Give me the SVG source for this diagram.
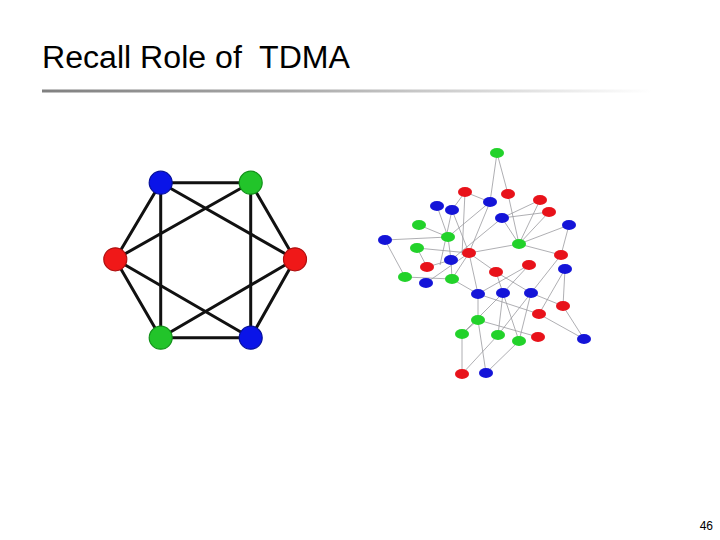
<svg xmlns="http://www.w3.org/2000/svg" width="720" height="540" viewBox="0 0 720 540">
<style>
.title{font-family:"Liberation Sans",Arial,sans-serif;font-size:31px;fill:#000;white-space:pre}
.pg{font-family:"Liberation Sans",Arial,sans-serif;font-size:12px;fill:#000}
.he{stroke:#111;stroke-width:3;stroke-linecap:round}
.hn{stroke-width:1.2}
.se{stroke:#9a9aa0;stroke-width:0.8}
.R{fill:#e8121a}
.G{fill:#22d22a}
.B{fill:#1414d8}
.hR{fill:#f01818;stroke:#b01010}
.hG{fill:#22c42a;stroke:#119018}
.hB{fill:#0a14e8;stroke:#06109a}
</style>
<defs>
<linearGradient id="rule" x1="0" y1="0" x2="1" y2="0">
<stop offset="0" stop-color="#808080"/>
<stop offset="0.4" stop-color="#a8a8a8"/>
<stop offset="1" stop-color="#ffffff"/>
</linearGradient>
</defs>
<rect width="720" height="540" fill="#fff"/>
<text class="title" x="42" y="68" xml:space="preserve" textLength="308" lengthAdjust="spacingAndGlyphs">Recall Role of  TDMA</text>
<rect x="42" y="89.5" width="610" height="3" fill="url(#rule)"/>

<g id="hex-edges">
<line class="he" x1="160.7" y1="182.7" x2="250.7" y2="182.7"/>
<line class="he" x1="250.7" y1="182.7" x2="295" y2="259.3"/>
<line class="he" x1="295" y1="259.3" x2="250.7" y2="337.7"/>
<line class="he" x1="250.7" y1="337.7" x2="160.7" y2="337.7"/>
<line class="he" x1="160.7" y1="337.7" x2="115.3" y2="259.3"/>
<line class="he" x1="115.3" y1="259.3" x2="160.7" y2="182.7"/>
<line class="he" x1="160.7" y1="182.7" x2="160.7" y2="337.7"/>
<line class="he" x1="250.7" y1="182.7" x2="250.7" y2="337.7"/>
<line class="he" x1="160.7" y1="182.7" x2="295" y2="259.3"/>
<line class="he" x1="250.7" y1="182.7" x2="115.3" y2="259.3"/>
<line class="he" x1="115.3" y1="259.3" x2="250.7" y2="337.7"/>
<line class="he" x1="295" y1="259.3" x2="160.7" y2="337.7"/>
</g>
<g id="hex-tl"><circle class="hn hB" cx="160.7" cy="182.7" r="11.5"/></g>
<g id="hex-tr"><circle class="hn hG" cx="250.7" cy="182.7" r="11.5"/></g>
<g id="hex-l"><circle class="hn hR" cx="115.3" cy="259.3" r="11.5"/></g>
<g id="hex-r"><circle class="hn hR" cx="295" cy="259.3" r="11.5"/></g>
<g id="hex-bl"><circle class="hn hG" cx="160.7" cy="337.7" r="11.5"/></g>
<g id="hex-br"><circle class="hn hB" cx="250.7" cy="337.7" r="11.5"/></g>

<g id="net-edges">
<line class="se" x1="497" y1="153" x2="490" y2="202"/>
<line class="se" x1="497" y1="153" x2="508" y2="194"/>
<line class="se" x1="508" y1="194" x2="519" y2="244"/>
<line class="se" x1="490" y1="202" x2="465" y2="192"/>
<line class="se" x1="490" y1="202" x2="448" y2="237"/>
<line class="se" x1="490" y1="202" x2="469" y2="253"/>
<line class="se" x1="540" y1="200" x2="502" y2="218"/>
<line class="se" x1="540" y1="200" x2="519" y2="244"/>
<line class="se" x1="549" y1="212" x2="519" y2="244"/>
<line class="se" x1="549" y1="212" x2="502" y2="218"/>
<line class="se" x1="569" y1="225" x2="519" y2="244"/>
<line class="se" x1="569" y1="225" x2="561" y2="255"/>
<line class="se" x1="519" y1="244" x2="561" y2="255"/>
<line class="se" x1="519" y1="244" x2="469" y2="253"/>
<line class="se" x1="502" y1="218" x2="519" y2="244"/>
<line class="se" x1="502" y1="218" x2="451" y2="260"/>
<line class="se" x1="465" y1="192" x2="452" y2="210"/>
<line class="se" x1="465" y1="192" x2="462" y2="255"/>
<line class="se" x1="437" y1="206" x2="448" y2="237"/>
<line class="se" x1="452" y1="210" x2="469" y2="253"/>
<line class="se" x1="452" y1="210" x2="440" y2="265"/>
<line class="se" x1="385" y1="240" x2="448" y2="237"/>
<line class="se" x1="385" y1="240" x2="405" y2="277"/>
<line class="se" x1="419" y1="225" x2="448" y2="237"/>
<line class="se" x1="417" y1="248" x2="469" y2="253"/>
<line class="se" x1="417" y1="248" x2="427" y2="267"/>
<line class="se" x1="448" y1="237" x2="451" y2="260"/>
<line class="se" x1="469" y1="253" x2="478" y2="294"/>
<line class="se" x1="469" y1="253" x2="496" y2="272"/>
<line class="se" x1="469" y1="253" x2="452" y2="279"/>
<line class="se" x1="451" y1="260" x2="427" y2="267"/>
<line class="se" x1="451" y1="260" x2="452" y2="279"/>
<line class="se" x1="405" y1="277" x2="452" y2="279"/>
<line class="se" x1="426" y1="283" x2="469" y2="253"/>
<line class="se" x1="452" y1="279" x2="478" y2="294"/>
<line class="se" x1="478" y1="294" x2="478" y2="320"/>
<line class="se" x1="478" y1="294" x2="539" y2="314"/>
<line class="se" x1="529" y1="265" x2="478" y2="294"/>
<line class="se" x1="529" y1="265" x2="503" y2="293"/>
<line class="se" x1="496" y1="272" x2="503" y2="293"/>
<line class="se" x1="496" y1="272" x2="531" y2="293"/>
<line class="se" x1="503" y1="293" x2="498" y2="335"/>
<line class="se" x1="503" y1="293" x2="519" y2="341"/>
<line class="se" x1="531" y1="293" x2="498" y2="335"/>
<line class="se" x1="531" y1="293" x2="519" y2="341"/>
<line class="se" x1="531" y1="293" x2="563" y2="306"/>
<line class="se" x1="561" y1="255" x2="531" y2="293"/>
<line class="se" x1="565" y1="269" x2="563" y2="306"/>
<line class="se" x1="565" y1="269" x2="539" y2="314"/>
<line class="se" x1="563" y1="306" x2="584" y2="339"/>
<line class="se" x1="539" y1="314" x2="584" y2="339"/>
<line class="se" x1="478" y1="320" x2="538" y2="337"/>
<line class="se" x1="478" y1="320" x2="462" y2="334"/>
<line class="se" x1="462" y1="334" x2="462" y2="374"/>
<line class="se" x1="478" y1="320" x2="486" y2="373"/>
<line class="se" x1="498" y1="335" x2="462" y2="374"/>
<line class="se" x1="519" y1="341" x2="486" y2="373"/>
<line class="se" x1="503" y1="293" x2="462" y2="334"/>
</g>

<g id="net-nodes">
<g id="n1"><ellipse class="G" cx="497" cy="153" rx="7" ry="5"/></g>
<g id="n2"><ellipse class="R" cx="465" cy="192" rx="7" ry="5"/></g>
<g id="n3"><ellipse class="R" cx="508" cy="194" rx="7" ry="5"/></g>
<g id="n4"><ellipse class="B" cx="490" cy="202" rx="7" ry="5"/></g>
<g id="n5"><ellipse class="R" cx="540" cy="200" rx="7" ry="5"/></g>
<g id="n6"><ellipse class="B" cx="437" cy="206" rx="7" ry="5"/></g>
<g id="n7"><ellipse class="B" cx="452" cy="210" rx="7" ry="5"/></g>
<g id="n8"><ellipse class="R" cx="549" cy="212" rx="7" ry="5"/></g>
<g id="n9"><ellipse class="B" cx="502" cy="218" rx="7" ry="5"/></g>
<g id="n10"><ellipse class="G" cx="419" cy="225" rx="7" ry="5"/></g>
<g id="n11"><ellipse class="B" cx="569" cy="225" rx="7" ry="5"/></g>
<g id="n12"><ellipse class="G" cx="448" cy="237" rx="7" ry="5"/></g>
<g id="n13"><ellipse class="B" cx="385" cy="240" rx="7" ry="5"/></g>
<g id="n14"><ellipse class="G" cx="519" cy="244" rx="7" ry="5"/></g>
<g id="n15"><ellipse class="G" cx="417" cy="248" rx="7" ry="5"/></g>
<g id="n16"><ellipse class="R" cx="469" cy="253" rx="7" ry="5"/></g>
<g id="n17"><ellipse class="R" cx="561" cy="255" rx="7" ry="5"/></g>
<g id="n18"><ellipse class="B" cx="451" cy="260" rx="7" ry="5"/></g>
<g id="n19"><ellipse class="R" cx="529" cy="265" rx="7" ry="5"/></g>
<g id="n20"><ellipse class="R" cx="427" cy="267" rx="7" ry="5"/></g>
<g id="n21"><ellipse class="B" cx="565" cy="269" rx="7" ry="5"/></g>
<g id="n22"><ellipse class="R" cx="496" cy="272" rx="7" ry="5"/></g>
<g id="n23"><ellipse class="G" cx="405" cy="277" rx="7" ry="5"/></g>
<g id="n24"><ellipse class="G" cx="452" cy="279" rx="7" ry="5"/></g>
<g id="n25"><ellipse class="B" cx="426" cy="283" rx="7" ry="5"/></g>
<g id="n26"><ellipse class="B" cx="478" cy="294" rx="7" ry="5"/></g>
<g id="n27"><ellipse class="B" cx="503" cy="293" rx="7" ry="5"/></g>
<g id="n28"><ellipse class="B" cx="531" cy="293" rx="7" ry="5"/></g>
<g id="n29"><ellipse class="R" cx="563" cy="306" rx="7" ry="5"/></g>
<g id="n30"><ellipse class="R" cx="539" cy="314" rx="7" ry="5"/></g>
<g id="n31"><ellipse class="G" cx="478" cy="320" rx="7" ry="5"/></g>
<g id="n32"><ellipse class="G" cx="462" cy="334" rx="7" ry="5"/></g>
<g id="n33"><ellipse class="G" cx="498" cy="335" rx="7" ry="5"/></g>
<g id="n34"><ellipse class="R" cx="538" cy="337" rx="7" ry="5"/></g>
<g id="n35"><ellipse class="G" cx="519" cy="341" rx="7" ry="5"/></g>
<g id="n36"><ellipse class="B" cx="584" cy="339" rx="7" ry="5"/></g>
<g id="n37"><ellipse class="R" cx="462" cy="374" rx="7" ry="5"/></g>
<g id="n38"><ellipse class="B" cx="486" cy="373" rx="7" ry="5"/></g>
</g>

<text class="pg" x="713" y="530" text-anchor="end">46</text>
</svg>
